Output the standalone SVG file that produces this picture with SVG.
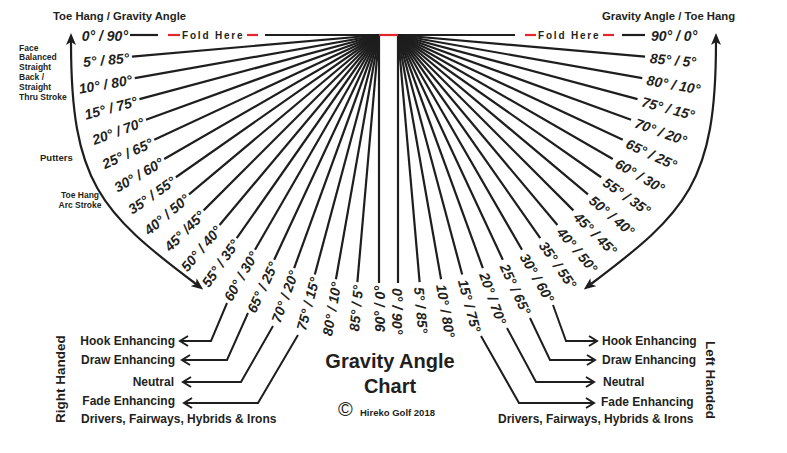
<svg xmlns="http://www.w3.org/2000/svg" width="787" height="453" viewBox="0 0 787 453">
<defs>
<style>
text{font-family:"Liberation Sans",Arial,sans-serif;font-weight:bold;fill:#231f20}
.deg{font-size:14px;font-style:italic}
.l{text-anchor:end}
.m{text-anchor:middle}
.ray line{stroke:#1e1e1e;stroke-width:2.2}
.red{stroke:#e3262d;stroke-width:2.2}
.fold{font-size:10px;letter-spacing:1.8px}
.hd{font-size:11.3px}
.note{font-size:8.5px}
.sw{font-size:12px}
.hand{font-size:13.5px}
.arc{fill:none;stroke:#1e1e1e;stroke-width:2.2;marker-start:url(#ah);marker-end:url(#ah)}
.lead{fill:none;stroke:#1e1e1e;stroke-width:2;marker-end:url(#chev)}
</style>
<marker id="ah" viewBox="0 0 12 10" refX="3" refY="5" markerWidth="12" markerHeight="10" markerUnits="userSpaceOnUse" orient="auto-start-reverse"><path d="M0,0 L12,5 L0,10 L3,5 z" fill="#1e1e1e"/></marker>
<marker id="chev" viewBox="-11 -7 13 14" refX="0" refY="0" markerWidth="13" markerHeight="14" markerUnits="userSpaceOnUse" orient="auto"><path d="M-8,-5 L0,0 L-8,5" fill="none" stroke="#1e1e1e" stroke-width="2"/></marker>
</defs>
<rect width="787" height="453" fill="#fff"/>

<g id="connectors">
 <g class="ray" transform="translate(379,35)">
  <line x1="-249" y1="0" x2="-221" y2="0"/>
  <line x1="-114" y1="0" x2="0" y2="0"/>
  <line x2="-248" transform="rotate(-5)"/>
  <line x2="-248" transform="rotate(-10)"/>
  <line x2="-248" transform="rotate(-15)"/>
  <line x2="-248" transform="rotate(-20)"/>
  <line x2="-248" transform="rotate(-25)"/>
  <line x2="-248" transform="rotate(-30)"/>
  <line x2="-248" transform="rotate(-35)"/>
  <line x2="-248" transform="rotate(-40)"/>
  <line x2="-248" transform="rotate(-45)"/>
  <line x2="-248" transform="rotate(-50)"/>
  <line x2="-248" transform="rotate(-55)"/>
  <line x2="-248" transform="rotate(-60)"/>
  <line x2="-248" transform="rotate(-65)"/>
  <line x2="-248" transform="rotate(-70)"/>
  <line x2="-248" transform="rotate(-75)"/>
  <line x2="-248" transform="rotate(-80)"/>
  <line x2="-248" transform="rotate(-85)"/>
  <line x2="-248" transform="rotate(-90)"/>
 </g>
 <g class="ray" transform="translate(398,35)">
  <line x1="0" y1="0" x2="117" y2="0"/>
  <line x1="224" y1="0" x2="247" y2="0"/>
  <line x2="248" transform="rotate(5)"/>
  <line x2="248" transform="rotate(10)"/>
  <line x2="248" transform="rotate(15)"/>
  <line x2="248" transform="rotate(20)"/>
  <line x2="248" transform="rotate(25)"/>
  <line x2="248" transform="rotate(30)"/>
  <line x2="248" transform="rotate(35)"/>
  <line x2="248" transform="rotate(40)"/>
  <line x2="248" transform="rotate(45)"/>
  <line x2="248" transform="rotate(50)"/>
  <line x2="248" transform="rotate(55)"/>
  <line x2="248" transform="rotate(60)"/>
  <line x2="248" transform="rotate(65)"/>
  <line x2="248" transform="rotate(70)"/>
  <line x2="248" transform="rotate(75)"/>
  <line x2="248" transform="rotate(80)"/>
  <line x2="248" transform="rotate(85)"/>
  <line x2="248" transform="rotate(90)"/>
 </g>
 <line class="red" x1="379" y1="35" x2="398" y2="35"/>
 <path class="arc" d="M71,42 C71,182 100,212 196,284"/>
 <path class="arc" d="M716,42 C716,182 687,212 591,284"/>
 <path class="lead" d="M227,303 L211,341 L180,341"/>
 <path class="lead" d="M248,313 L227,360 L182,360"/>
 <path class="lead" d="M273,326 L241,382 L183,382"/>
 <path class="lead" d="M298,335 L258,403 L184,403"/>
 <path class="lead" d="M553,305 L566,341 L597,341"/>
 <path class="lead" d="M530,318 L550,360 L595,360"/>
 <path class="lead" d="M507,328 L536,382 L594,382"/>
 <path class="lead" d="M481,336 L519,403 L594,403"/>
</g>

<g id="heading-left"><text class="hd" x="53" y="20">Toe Hang / Gravity Angle</text></g>
<g id="heading-right"><text class="hd" x="602" y="20">Gravity Angle / Toe Hang</text></g>

<g id="fold-left">
 <line class="red" x1="168" y1="35" x2="180" y2="35"/>
 <line class="red" x1="247" y1="35" x2="258" y2="35"/>
 <text class="fold" x="182" y="38.8">Fold Here</text>
</g>
<g id="fold-right">
 <line class="red" x1="525" y1="35" x2="536" y2="35"/>
 <line class="red" x1="603" y1="35" x2="614" y2="35"/>
 <text class="fold" x="538" y="38.8">Fold Here</text>
</g>

<g id="note-face-balanced"><text class="note" x="19" y="50.5">Face<tspan x="19" dy="9.8">Balanced</tspan><tspan x="19" dy="9.8">Straight</tspan><tspan x="19" dy="9.8">Back /</tspan><tspan x="19" dy="9.8">Straight</tspan><tspan x="19" dy="9.8">Thru Stroke</tspan></text></g>
<g id="note-putters"><text x="40" y="160.5" style="font-size:9.5px">Putters</text></g>
<g id="note-toe-hang"><text class="note m" x="80" y="198.3">Toe Hang<tspan x="80" dy="10">Arc Stroke</tspan></text></g>

<g id="left-0"><text class="deg l" transform="translate(379,35)" x="-251" y="6">0° / 90°</text></g>
<g id="left-5"><text class="deg l" transform="translate(379,35) rotate(-5)" x="-251" y="6">5° / 85°</text></g>
<g id="left-10"><text class="deg l" transform="translate(379,35) rotate(-10)" x="-251" y="6">10° / 80°</text></g>
<g id="left-15"><text class="deg l" transform="translate(379,35) rotate(-15)" x="-251" y="6">15° / 75°</text></g>
<g id="left-20"><text class="deg l" transform="translate(379,35) rotate(-20)" x="-251" y="6">20° / 70°</text></g>
<g id="left-25"><text class="deg l" transform="translate(379,35) rotate(-25)" x="-251" y="6">25° / 65°</text></g>
<g id="left-30"><text class="deg l" transform="translate(379,35) rotate(-30)" x="-251" y="6">30° / 60°</text></g>
<g id="left-35"><text class="deg l" transform="translate(379,35) rotate(-35)" x="-251" y="6">35° / 55°</text></g>
<g id="left-40"><text class="deg l" transform="translate(379,35) rotate(-40)" x="-251" y="6">40° / 50°</text></g>
<g id="left-45"><text class="deg l" transform="translate(379,35) rotate(-45)" x="-251" y="6">45° /45°</text></g>
<g id="left-50"><text class="deg l" transform="translate(379,35) rotate(-50)" x="-251" y="6">50° / 40°</text></g>
<g id="left-55"><text class="deg l" transform="translate(379,35) rotate(-55)" x="-251" y="6">55° / 35°</text></g>
<g id="left-60"><text class="deg l" transform="translate(379,35) rotate(-60)" x="-251" y="6">60° / 30°</text></g>
<g id="left-65"><text class="deg l" transform="translate(379,35) rotate(-65)" x="-251" y="6">65° / 25°</text></g>
<g id="left-70"><text class="deg l" transform="translate(379,35) rotate(-70)" x="-251" y="6">70° / 20°</text></g>
<g id="left-75"><text class="deg l" transform="translate(379,35) rotate(-75)" x="-251" y="6">75° / 15°</text></g>
<g id="left-80"><text class="deg l" transform="translate(379,35) rotate(-80)" x="-251" y="6">80° / 10°</text></g>
<g id="left-85"><text class="deg l" transform="translate(379,35) rotate(-85)" x="-251" y="6">85° / 5°</text></g>
<g id="left-90"><text class="deg l" transform="translate(379,35) rotate(-90)" x="-251" y="6">90° / 0°</text></g>

<g id="right-0"><text class="deg" transform="translate(398,35)" x="253" y="6">90° / 0°</text></g>
<g id="right-5"><text class="deg" transform="translate(398,35) rotate(5)" x="253" y="6">85° / 5°</text></g>
<g id="right-10"><text class="deg" transform="translate(398,35) rotate(10)" x="253" y="6">80° / 10°</text></g>
<g id="right-15"><text class="deg" transform="translate(398,35) rotate(15)" x="253" y="6">75° / 15°</text></g>
<g id="right-20"><text class="deg" transform="translate(398,35) rotate(20)" x="253" y="6">70° / 20°</text></g>
<g id="right-25"><text class="deg" transform="translate(398,35) rotate(25)" x="253" y="6">65° / 25°</text></g>
<g id="right-30"><text class="deg" transform="translate(398,35) rotate(30)" x="253" y="6">60° / 30°</text></g>
<g id="right-35"><text class="deg" transform="translate(398,35) rotate(35)" x="253" y="6">55° / 35°</text></g>
<g id="right-40"><text class="deg" transform="translate(398,35) rotate(40)" x="253" y="6">50° / 40°</text></g>
<g id="right-45"><text class="deg" transform="translate(398,35) rotate(45)" x="253" y="6">45° / 45°</text></g>
<g id="right-50"><text class="deg" transform="translate(398,35) rotate(50)" x="253" y="6">40° / 50°</text></g>
<g id="right-55"><text class="deg" transform="translate(398,35) rotate(55)" x="253" y="6">35° / 55°</text></g>
<g id="right-60"><text class="deg" transform="translate(398,35) rotate(60)" x="253" y="6">30° / 60°</text></g>
<g id="right-65"><text class="deg" transform="translate(398,35) rotate(65)" x="253" y="6">25° / 65°</text></g>
<g id="right-70"><text class="deg" transform="translate(398,35) rotate(70)" x="253" y="6">20° / 70°</text></g>
<g id="right-75"><text class="deg" transform="translate(398,35) rotate(75)" x="253" y="6">15° / 75°</text></g>
<g id="right-80"><text class="deg" transform="translate(398,35) rotate(80)" x="253" y="6">10° / 80°</text></g>
<g id="right-85"><text class="deg" transform="translate(398,35) rotate(85)" x="253" y="6">5° / 85°</text></g>
<g id="right-90"><text class="deg" transform="translate(398,35) rotate(90)" x="253" y="6">0° / 90°</text></g>

<g id="rh-hook"><text class="sw l" x="175" y="345">Hook Enhancing</text></g>
<g id="rh-draw"><text class="sw l" x="175" y="364">Draw Enhancing</text></g>
<g id="rh-neutral"><text class="sw l" x="174" y="386">Neutral</text></g>
<g id="rh-fade"><text class="sw l" x="175" y="405">Fade Enhancing</text></g>
<g id="rh-clubs"><text class="sw" x="81" y="422.5">Drivers, Fairways, Hybrids &amp; Irons</text></g>
<g id="right-handed"><text class="hand m" transform="translate(64.5,379) rotate(-90)">Right Handed</text></g>

<g id="lh-hook"><text class="sw" x="602" y="345">Hook Enhancing</text></g>
<g id="lh-draw"><text class="sw" x="602" y="363.5">Draw Enhancing</text></g>
<g id="lh-neutral"><text class="sw" x="603" y="386">Neutral</text></g>
<g id="lh-fade"><text class="sw" x="601" y="405.5">Fade Enhancing</text></g>
<g id="lh-clubs"><text class="sw" x="498" y="422.5">Drivers, Fairways, Hybrids &amp; Irons</text></g>
<g id="left-handed"><text class="hand m" transform="translate(706,380) rotate(90)">Left Handed</text></g>

<g id="chart-title">
 <text class="m" x="390" y="368" style="font-size:20px">Gravity Angle</text>
 <text class="m" x="390" y="393" style="font-size:20px">Chart</text>
</g>
<g id="copyright"><text y="415.5"><tspan x="338" style="font-size:20px;font-weight:normal">©</tspan><tspan x="360" style="font-size:9.5px">Hireko Golf 2018</tspan></text></g>
</svg>
